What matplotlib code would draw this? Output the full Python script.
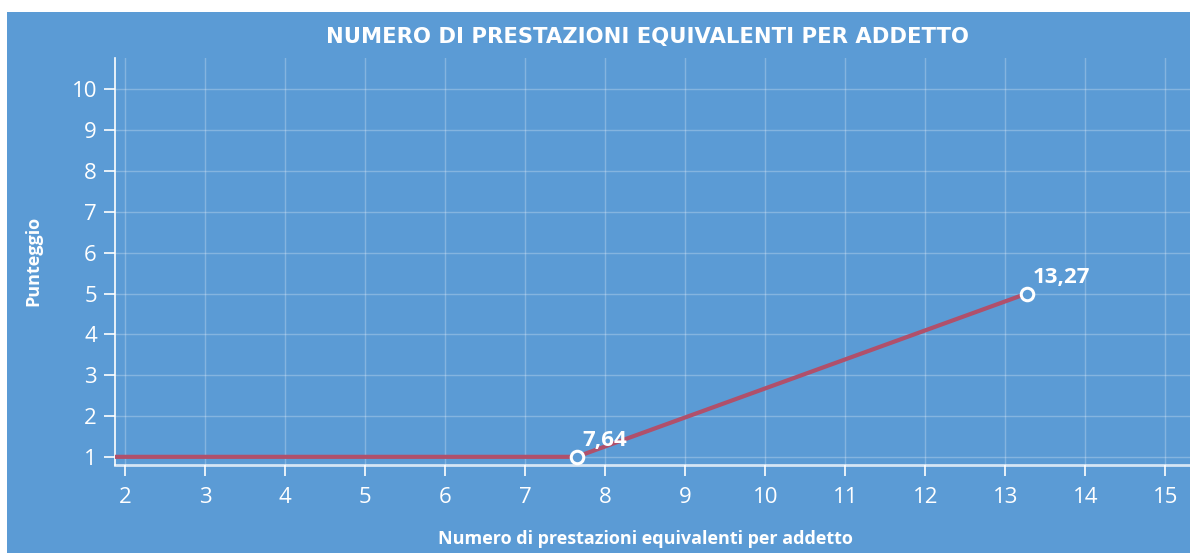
import matplotlib.pyplot as plt
from matplotlib.patches import Rectangle

# data
x_vals = [0.0, 7.64, 13.27]
y_vals = [1, 1, 5]
point_x = [7.64, 13.27]
point_y = [1, 5]
point_labels = ["7,64", "13,27"]
x_ticks = list(range(2, 16))
y_ticks = list(range(1, 11))

bg = "#5b9bd5"
line_col = "#b0506b"
plt.rcParams['font.family'] = ['Open Sans', 'DejaVu Sans']

fig = plt.figure(figsize=(11.9, 5.53), dpi=100, facecolor="white")
fig.patches.append(Rectangle((7 / 1190, 0), 1 - 7 / 1190, 1 - 12 / 553,
                             transform=fig.transFigure, facecolor=bg,
                             edgecolor="none", zorder=-1))

ax = fig.add_axes([115 / 1190, 88 / 553, 1 - 115 / 1190, (465 - 58) / 553])
ax.set_facecolor(bg)
ax.set_xlim(1.87, 15.31)
ax.set_ylim(0.80, 10.77)
ax.set_xticks(x_ticks)
ax.set_yticks(y_ticks)
ax.grid(True, color="white", alpha=0.25, linewidth=1)
ax.set_axisbelow(True)

ax.plot(x_vals, y_vals, color=line_col, linewidth=3, solid_capstyle="butt", zorder=3)
ax.plot(point_x, point_y, "o", markersize=9, markerfacecolor=bg,
        markeredgecolor="white", markeredgewidth=2.2, zorder=4)
for px, py, lab in zip(point_x, point_y, point_labels):
    ax.annotate(lab, (px, py), xytext=(4, 4), textcoords="offset points",
                color="white", fontsize=16, fontweight="bold", ha="left", va="bottom",
                zorder=5)

for s in ["top", "right"]:
    ax.spines[s].set_visible(False)
ax.spines["left"].set_color("white")
ax.spines["left"].set_linewidth(1.2)
ax.spines["bottom"].set_color((1, 1, 1, 0.75))
ax.spines["bottom"].set_linewidth(2)
ax.tick_params(axis="both", colors="white", labelsize=16, length=8, width=1.2)
ax.tick_params(axis="x", pad=8)
ax.tick_params(axis="y", pad=5)

fig.text(647 / 1190, 1 - 37 / 553, "NUMERO DI PRESTAZIONI EQUIVALENTI PER ADDETTO",
         color="white", fontsize=15.2, fontweight="bold", ha="center", va="center",
         family="DejaVu Sans")
fig.text(645 / 1190, 1 - 539 / 553, "Numero di prestazioni equivalenti per addetto",
         color="white", fontsize=13, fontweight="bold", ha="center", va="center")
fig.text(33 / 1190, 1 - 261 / 553, "Punteggio", color="white", fontsize=13,
         fontweight="bold", ha="center", va="center", rotation=90)

fig.savefig("out.png", dpi=100, facecolor="white")
